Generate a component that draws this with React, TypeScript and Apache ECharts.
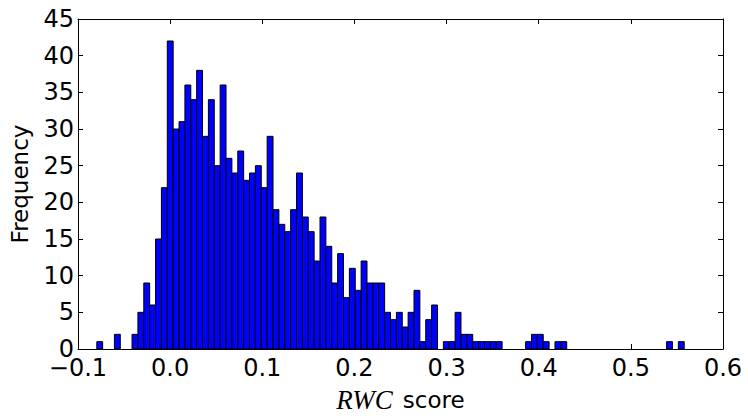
import React, { useEffect, useRef } from "react";
import * as echarts from "echarts";

// Histogram of RWC scores: 100 equal-width bins
const binStart = -0.0796;
const binWidth = 0.006375;
const counts = [
  1, 0, 0, 2, 0, 0, 2, 5, 9, 6,
  15, 22, 42, 30, 31, 36, 34, 38, 29, 34,
  25, 36, 26, 24, 27, 23, 24, 25, 22, 29,
  19, 17, 16, 19, 24, 18, 16, 12, 18, 14,
  9, 13, 7, 11, 8, 12, 9, 9, 9, 5,
  4, 5, 3, 5, 8, 1, 4, 6, 0, 1,
  1, 5, 2, 2, 1, 1, 1, 1, 1, 0,
  0, 0, 0, 1, 2, 2, 1, 0, 1, 1,
  0, 0, 0, 0, 0, 0, 0, 0, 0, 0,
  0, 0, 0, 0, 0, 0, 0, 1, 0, 1,
];
const xTicks = [-0.1, 0.0, 0.1, 0.2, 0.3, 0.4, 0.5, 0.6];
const yTicks = [0, 5, 10, 15, 20, 25, 30, 35, 40, 45];

const FONT = "DejaVu Sans";

export default function App() {
  const ref = useRef<HTMLDivElement>(null);
  useEffect(() => {
    if (!ref.current) return;
    const chart = echarts.init(ref.current, null, { renderer: "svg" });
    const data = counts
      .map((c, i) => [binStart + i * binWidth, binStart + (i + 1) * binWidth, c])
      .filter((d) => d[2] > 0);
    const fmtX = (v: number) => {
      const s = Math.abs(v).toFixed(1);
      return v < -1e-9 ? "\u2212" + s : s;
    };
    const xMin = xTicks[0];
    const xMax = xTicks[xTicks.length - 1];
    const yMin = yTicks[0];
    const yMax = yTicks[yTicks.length - 1];
    const lineStyle = { color: "#000", width: 1 };
    chart.setOption({
      animation: false,
      backgroundColor: "#fff",
      grid: { left: 75, right: 25, top: 19, bottom: 65, containLabel: false },
      xAxis: [
        {
          type: "value",
          position: "bottom",
          min: xMin,
          max: xMax,
          interval: 0.1,
          name: "{i|RWC}{n|score}",
          nameLocation: "middle",
          nameGap: 37,
          nameTextStyle: {
            rich: {
              i: {
                fontFamily: "Liberation Serif",
                fontStyle: "italic",
                fontSize: 27,
                color: "#000",
                padding: [0, 10, 0, 0],
              },
              n: { fontFamily: FONT, fontSize: 23, color: "#000" },
            },
          },
          axisLine: { show: true, onZero: false, lineStyle },
          axisTick: { show: true, inside: true, length: 5, lineStyle },
          axisLabel: {
            fontFamily: FONT,
            fontSize: 24,
            lineHeight: 18,
            color: "#000",
            margin: 10,
            formatter: fmtX,
          },
          splitLine: { show: false },
        },
        {
          type: "value",
          position: "top",
          min: xMin,
          max: xMax,
          interval: 0.1,
          axisLine: { show: true, onZero: false, lineStyle },
          axisTick: { show: true, inside: true, length: 5, lineStyle },
          axisLabel: { show: false },
          splitLine: { show: false },
        },
      ],
      yAxis: [
        {
          type: "value",
          position: "left",
          min: yMin,
          max: yMax,
          interval: 5,
          name: "Frequency",
          nameLocation: "middle",
          nameGap: 47,
          nameTextStyle: { fontFamily: FONT, fontSize: 23, color: "#000" },
          axisLine: { show: true, onZero: false, lineStyle },
          axisTick: { show: true, inside: true, length: 5, lineStyle },
          axisLabel: { fontFamily: FONT, fontSize: 24, lineHeight: 18, color: "#000", margin: 4 },
          splitLine: { show: false },
        },
        {
          type: "value",
          position: "right",
          min: yMin,
          max: yMax,
          interval: 5,
          axisLine: { show: true, onZero: false, lineStyle },
          axisTick: { show: true, inside: true, length: 5, lineStyle },
          axisLabel: { show: false },
          splitLine: { show: false },
        },
      ],
      series: [
        {
          type: "custom",
          xAxisIndex: 0,
          yAxisIndex: 0,
          encode: { x: [0, 1], y: 2 },
          data,
          renderItem: (params: any, api: any) => {
            const x0 = api.value(0);
            const x1 = api.value(1);
            const c = api.value(2);
            const p0 = api.coord([x0, c]);
            const p1 = api.coord([x1, 0]);
            return {
              type: "rect",
              shape: { x: p0[0], y: p0[1], width: p1[0] - p0[0], height: p1[1] - p0[1] },
              style: { fill: "#0000ff", stroke: "#000", lineWidth: 1 },
            };
          },
        },
      ],
    });
    return () => chart.dispose();
  }, []);
  return (
    <div
      ref={ref}
      style={{ position: "fixed", left: 0, top: 0, width: 748, height: 418, background: "#fff" }}
    />
  );
}
